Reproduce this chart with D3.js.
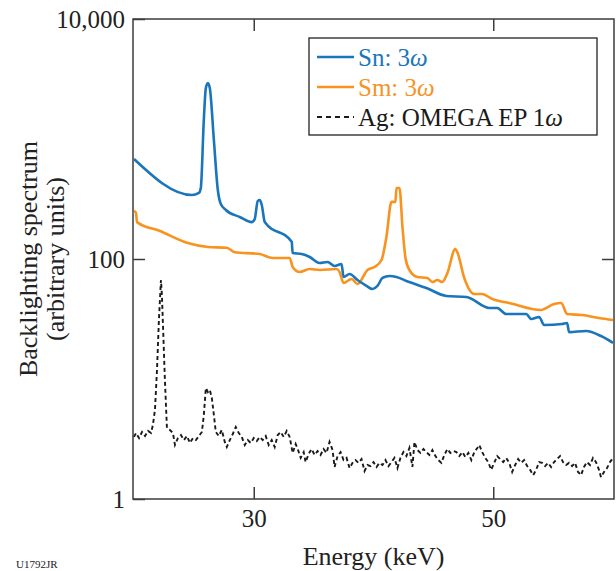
<!DOCTYPE html>
<html>
<head>
<meta charset="utf-8">
<script src="https://cdn.jsdelivr.net/npm/d3@7"></script>
<style>
  html, body { margin: 0; padding: 0; background: #fff; }
  svg { display: block; }
  text { font-family: "Liberation Serif", "Times New Roman", serif; }
</style>
</head>
<body>
<svg id="chart" width="616" height="571"></svg>
<script>
// Sn backlighter, 3ω drive
const snEnergy = [20.0, 24.83, 25.42, 25.58, 25.83, 26.0, 26.17, 26.33, 26.67, 27.0, 27.25, 27.67, 28.83, 29.83, 30.08, 30.33, 30.5, 30.67, 30.92, 33.17, 33.25, 34.0, 34.67, 35.5, 36.17, 36.75, 37.33, 37.5, 38.0, 38.67, 39.42, 39.92, 40.33, 40.75, 41.33, 41.92, 42.75, 44.42, 46.08, 47.75, 49.67, 50.33, 51.08, 52.75, 53.17, 53.83, 54.25, 55.75, 56.17, 56.33, 57.75, 59.0, 60.0];
const snCounts = [681, 341, 355, 391, 1440, 2660, 2930, 2660, 981, 376, 287, 256, 224, 203, 215, 304, 310, 282, 203, 139, 112, 110, 104, 92.6, 94.4, 87.4, 90.9, 70.8, 75.0, 66.8, 59.6, 56.2, 59.6, 69.5, 72.2, 70.8, 65.6, 57.3, 49.2, 48.3, 39.1, 39.1, 34.8, 34.8, 31.6, 32.9, 28.2, 28.7, 29.3, 24.6, 25.1, 22.8, 20.0];

// Sm backlighter, 3ω drive
const smEnergy = [20.0, 20.17, 20.25, 22.17, 24.5, 26.17, 27.75, 28.42, 30.5, 31.58, 33.0, 33.25, 33.83, 34.67, 35.5, 36.92, 37.17, 37.5, 38.17, 38.67, 39.5, 40.08, 40.67, 41.08, 41.5, 41.83, 41.92, 42.17, 42.42, 42.67, 43.0, 43.67, 44.5, 44.92, 45.33, 45.75, 46.17, 46.83, 47.0, 47.58, 48.42, 49.08, 49.92, 51.33, 54.0, 54.25, 55.08, 55.67, 56.17, 57.42, 58.83, 60.0];
const smCounts = [251, 242, 203, 171, 136, 126, 124, 114, 110, 102, 102, 85.8, 77.9, 82.5, 81.0, 82.5, 77.9, 63.1, 68.1, 61.9, 81.0, 85.8, 98.1, 153, 299, 299, 391, 391, 185, 102, 81.0, 70.8, 69.5, 64.3, 66.8, 64.3, 76.4, 121, 114, 69.5, 51.1, 51.1, 46.4, 43.0, 37.6, 38.3, 42.2, 43.0, 34.8, 34.1, 32.2, 31.0];

// Ag backlighter, OMEGA EP 1ω drive
const agEnergy = [20.0, 20.17, 20.42, 20.67, 20.92, 21.17, 21.42, 21.58, 21.75, 21.92, 22.08, 22.25, 22.33, 22.42, 22.58, 22.75, 23.0, 23.25, 23.42, 23.67, 23.92, 24.17, 24.42, 24.67, 24.92, 25.17, 25.42, 25.67, 25.83, 26.0, 26.17, 26.33, 26.5, 26.67, 26.83, 27.08, 27.33, 27.58, 27.75, 28.0, 28.25, 28.5, 28.75, 29.0, 29.25, 29.5, 29.75, 30.0, 30.25, 30.5, 30.75, 31.0, 31.25, 31.5, 31.75, 32.0, 32.25, 32.5, 32.75, 33.0, 33.25, 33.5, 33.67, 33.92, 34.17, 34.33, 34.58, 34.83, 35.08, 35.33, 35.58, 35.83, 36.08, 36.33, 36.58, 36.75, 37.0, 37.25, 37.5, 37.75, 38.0, 38.25, 38.5, 38.75, 39.0, 39.25, 39.5, 39.75, 40.0, 40.25, 40.5, 40.75, 41.0, 41.25, 41.5, 41.75, 42.0, 42.25, 42.5, 42.75, 43.0, 43.25, 43.42, 43.67, 43.92, 44.17, 44.42, 44.67, 44.92, 45.17, 45.42, 45.67, 45.92, 46.17, 46.42, 46.67, 46.92, 47.17, 47.42, 47.67, 47.92, 48.17, 48.42, 48.67, 48.83, 49.08, 49.33, 49.58, 49.83, 50.08, 50.33, 50.58, 50.83, 51.08, 51.33, 51.58, 51.83, 52.08, 52.33, 52.58, 52.83, 53.08, 53.33, 53.58, 53.83, 54.08, 54.33, 54.58, 54.83, 55.08, 55.33, 55.58, 55.83, 56.08, 56.33, 56.58, 56.83, 57.08, 57.33, 57.58, 57.83, 58.08, 58.33, 58.58, 58.83, 59.0, 59.25, 59.5, 59.75, 60.0];
const agCounts = [3.29, 3.55, 3.22, 3.62, 3.35, 3.69, 3.55, 4.14, 5.52, 11.9, 31.0, 66.8, 50.1, 28.2, 9.8, 3.91, 3.76, 3.55, 2.82, 3.22, 3.41, 3.10, 3.35, 2.93, 3.22, 3.10, 3.35, 3.62, 5.01, 8.41, 7.79, 8.10, 6.95, 5.01, 3.62, 3.35, 3.76, 2.99, 2.71, 3.10, 3.48, 3.98, 3.55, 3.29, 2.82, 3.10, 2.93, 3.22, 3.04, 3.29, 3.10, 3.35, 2.82, 3.10, 2.71, 3.41, 3.62, 3.29, 3.69, 3.29, 2.42, 2.87, 2.61, 2.20, 2.46, 2.03, 2.37, 2.61, 2.33, 2.51, 2.33, 2.61, 2.42, 2.99, 2.56, 1.85, 2.28, 2.46, 2.11, 2.20, 1.81, 2.00, 2.11, 2.00, 2.15, 1.71, 1.92, 1.88, 2.03, 1.85, 2.00, 1.92, 2.11, 1.88, 2.03, 2.20, 1.81, 2.20, 2.46, 2.28, 2.66, 1.85, 2.99, 2.56, 2.42, 2.61, 2.46, 2.33, 2.56, 2.28, 2.11, 2.00, 2.33, 2.61, 2.42, 2.51, 2.46, 2.28, 2.46, 2.24, 2.42, 2.11, 2.46, 2.66, 2.82, 2.46, 2.20, 2.03, 1.75, 2.00, 2.28, 2.15, 2.03, 2.20, 2.00, 1.68, 1.92, 2.15, 2.00, 2.11, 1.88, 1.75, 1.58, 1.75, 2.03, 2.00, 1.88, 2.00, 1.85, 2.03, 2.15, 2.28, 2.03, 1.92, 2.00, 1.88, 2.00, 1.68, 1.58, 1.85, 2.03, 1.92, 2.20, 2.03, 1.75, 1.52, 1.68, 1.81, 2.03, 2.20];

const xTicks = [30, 50];
const yTicks = [1, 100, 10000];
const seriesNames = ["Sn: 3", "Sm: 3", "Ag: OMEGA EP 1"];
const seriesColors = ["#1b75bb", "#f7931e", "#1a1a1a"];

const svg = d3.select("#chart");
const margin = { left: 133, right: 2, top: 19, bottom: 72 };
const W = 616, H = 571;
const x0 = margin.left, x1 = W - margin.right;
const y0 = H - margin.bottom, y1 = margin.top;

const x = d3.scaleLinear().domain([20, 60]).range([x0 + 1, x1 - 1]);
const y = d3.scaleLog().domain([1, 10000]).range([y0, y1]);

svg.append("defs").append("clipPath").attr("id", "plot-clip")
  .append("rect").attr("x", x0).attr("y", y1).attr("width", x1 - x0).attr("height", y0 - y1);

const axisColor = "#3c3c3c";

function styleAxis(g, showText) {
  g.select(".domain").remove();
  g.selectAll(".tick line").attr("stroke", axisColor).attr("stroke-width", 1.5);
  g.selectAll(".tick text")
    .attr("fill", "#222")
    .style("font-size", "25px")
    .style("font-family", '"Liberation Serif", "Times New Roman", serif');
  if (!showText) g.selectAll(".tick text").remove();
}

// axes with inward ticks
svg.append("g").attr("transform", `translate(0,${y0})`)
  .call(d3.axisBottom(x).tickValues(xTicks).tickSize(-12).tickPadding(10).tickFormat(d3.format("d")))
  .call(g => styleAxis(g, true));
svg.append("g").attr("transform", `translate(0,${y1})`)
  .call(d3.axisTop(x).tickValues(xTicks).tickSize(-12))
  .call(g => styleAxis(g, false));
svg.append("g").attr("transform", `translate(${x0},0)`)
  .call(d3.axisLeft(y).tickValues(yTicks).tickSize(-12).tickPadding(8).tickFormat(d3.format(",")))
  .call(g => styleAxis(g, true));
svg.append("g").attr("transform", `translate(${x1},0)`)
  .call(d3.axisRight(y).tickValues([100]).tickSize(-12))
  .call(g => styleAxis(g, false));

// plot frame
svg.append("rect")
  .attr("x", x0).attr("y", y1).attr("width", x1 - x0).attr("height", y0 - y1)
  .attr("fill", "none").attr("stroke", axisColor).attr("stroke-width", 1.5);

const plot = svg.append("g").attr("clip-path", "url(#plot-clip)");

const smoothLine = d3.line().x(d => x(d[0])).y(d => y(d[1])).curve(d3.curveMonotoneX);
const rawLine = d3.line().x(d => x(d[0])).y(d => y(d[1]));

plot.append("path")
  .datum(d3.zip(agEnergy, agCounts))
  .attr("d", rawLine)
  .attr("fill", "none").attr("stroke", seriesColors[2]).attr("stroke-width", 1.9)
  .attr("stroke-dasharray", "4,3");

plot.append("path")
  .datum(d3.zip(smEnergy, smCounts))
  .attr("d", smoothLine)
  .attr("fill", "none").attr("stroke", seriesColors[1]).attr("stroke-width", 2.6)
  .attr("stroke-linejoin", "round");

plot.append("path")
  .datum(d3.zip(snEnergy, snCounts))
  .attr("d", smoothLine)
  .attr("fill", "none").attr("stroke", seriesColors[0]).attr("stroke-width", 2.6)
  .attr("stroke-linejoin", "round");

// legend
const legend = svg.append("g").attr("transform", "translate(309,38)");
legend.append("rect").attr("width", 288).attr("height", 97)
  .attr("fill", "#fff").attr("stroke", "#222").attr("stroke-width", 1.3);
seriesNames.forEach((name, i) => {
  const row = legend.append("g").attr("transform", `translate(0,${19 + i * 30})`);
  row.append("line").attr("x1", 8).attr("x2", 45).attr("y1", 0).attr("y2", 0)
    .attr("stroke", seriesColors[i]).attr("stroke-width", i === 2 ? 1.8 : 2.6)
    .attr("stroke-dasharray", i === 2 ? "5,4" : null);
  const t = row.append("text").attr("x", 49).attr("y", 9)
    .attr("fill", seriesColors[i]).style("font-size", "25px");
  t.append("tspan").text(name);
  t.append("tspan").style("font-style", "italic").text("ω");
});

// axis titles
svg.append("text")
  .attr("x", x(40)).attr("y", 565)
  .attr("text-anchor", "middle").attr("fill", "#222")
  .style("font-size", "26px")
  .text("Energy (keV)");

const yTitle = svg.append("text")
  .attr("transform", `translate(37,${(y0 + y1) / 2}) rotate(-90)`)
  .attr("text-anchor", "middle").attr("fill", "#222")
  .style("font-size", "26px");
yTitle.append("tspan").attr("x", 0).attr("y", 0).text("Backlighting spectrum");
yTitle.append("tspan").attr("x", 0).attr("y", 27).text("(arbitrary units)");

// figure id
svg.append("text")
  .attr("x", 16).attr("y", 568).attr("fill", "#222")
  .style("font-size", "11px")
  .text("U1792JR");
</script>
</body>
</html>
